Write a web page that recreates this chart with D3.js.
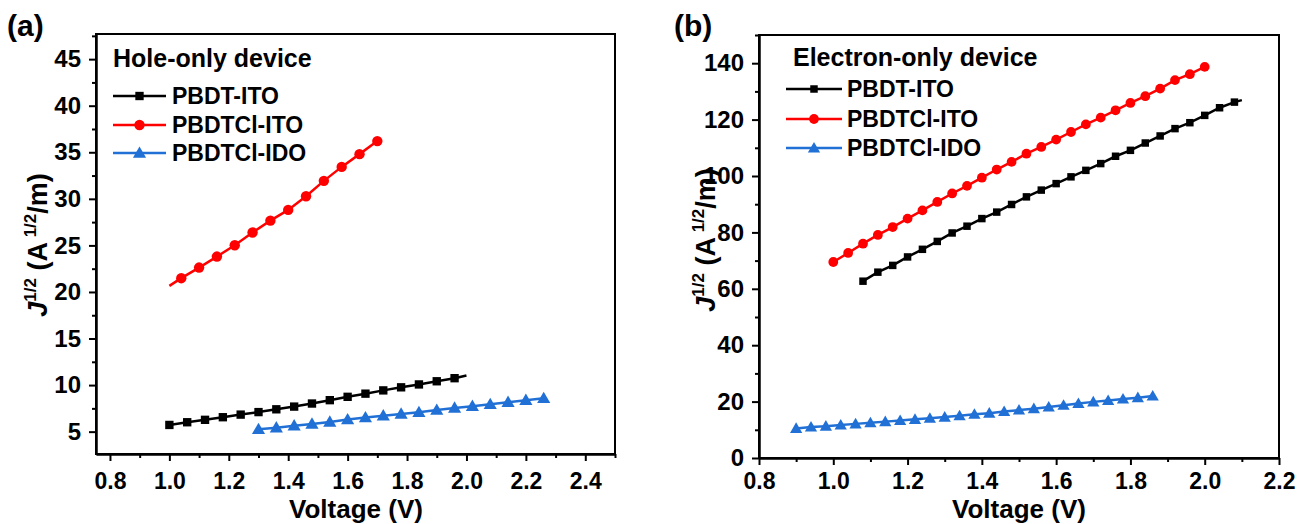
<!DOCTYPE html>
<html>
<head>
<meta charset="utf-8">
<title>Hole / electron only devices</title>
<style>
  body { margin: 0; background: #fff; }
  svg text { font-family: "Liberation Sans", Arial, sans-serif; font-weight: bold; fill: #000; }
  .axis path, .axis line { stroke: #000; stroke-width: 2px; }
  .axis text { font-size: 24px; }
  .axis.xa text { font-size: 23px; }
</style>
</head>
<body>
<div class="container"></div>
<script src="https://cdn.jsdelivr.net/npm/d3@7"></script>
<script>

// ---- data ----
var seriesNames = ["PBDT-ITO", "PBDTCl-ITO", "PBDTCl-IDO"];
var seriesColors = ["#000000", "#ff0000", "#2170d6"];

// (a) hole-only, step 0.06 V
var holeBlackV = [1.00,1.06,1.12,1.18,1.24,1.30,1.36,1.42,1.48,1.54,1.60,1.66,1.72,1.78,1.84,1.90,1.96];
var holeBlackJ = [5.72,6.01,6.27,6.55,6.83,7.10,7.40,7.69,8.02,8.38,8.74,9.08,9.43,9.76,10.07,10.41,10.74];
var holeBlackTail = [2.00, 11.02];

var holeRedV = [1.04,1.10,1.16,1.22,1.28,1.34,1.40,1.46,1.52,1.58,1.64,1.70];
var holeRedJ = [21.48,22.62,23.80,25.02,26.38,27.66,28.81,30.28,31.93,33.43,34.80,36.20];
var holeRedHead = [1.00, 20.65];

var holeBlueV = [1.30,1.36,1.42,1.48,1.54,1.60,1.66,1.72,1.78,1.84,1.90,1.96,2.02,2.08,2.14,2.20,2.26];
var holeBlueJ = [5.25,5.43,5.64,5.83,6.04,6.30,6.52,6.72,6.90,7.08,7.32,7.55,7.74,7.94,8.16,8.38,8.58];

// (b) electron-only, step 0.04 V
var elecBlackV = [1.08,1.12,1.16,1.20,1.24,1.28,1.32,1.36,1.40,1.44,1.48,1.52,1.56,1.60,1.64,1.68,1.72,1.76,1.80,1.84,1.88,1.92,1.96,2.00,2.04,2.08];
var elecBlackJ = [62.7,65.9,68.3,71.3,74.0,76.8,79.8,82.2,84.9,87.2,89.9,92.6,95.0,97.3,99.7,102.0,104.4,107.0,109.1,111.7,114.2,116.8,118.9,121.5,124.2,126.2];
var elecBlackTail = [2.10, 126.9];

var elecRedV = [1.00,1.04,1.08,1.12,1.16,1.20,1.24,1.28,1.32,1.36,1.40,1.44,1.48,1.52,1.56,1.60,1.64,1.68,1.72,1.76,1.80,1.84,1.88,1.92,1.96,2.00];
var elecRedJ = [69.5,72.7,76.0,79.1,81.9,84.9,87.8,90.8,93.8,96.5,99.4,102.3,105.0,107.9,110.3,112.9,115.6,118.3,120.7,123.3,125.9,128.3,131.0,134.0,136.1,138.7];

var elecBlueV = [0.90,0.94,0.98,1.02,1.06,1.10,1.14,1.18,1.22,1.26,1.30,1.34,1.38,1.42,1.46,1.50,1.54,1.58,1.62,1.66,1.70,1.74,1.78,1.82,1.86];
var elecBlueJ = [10.5,11.0,11.3,11.7,12.1,12.5,12.9,13.3,13.7,14.1,14.5,15.0,15.5,15.9,16.5,17.0,17.5,18.1,18.7,19.3,19.9,20.4,20.9,21.4,22.0];

var holeXTicks = [0.8,1.0,1.2,1.4,1.6,1.8,2.0,2.2,2.4];
var holeYTicks = [5,10,15,20,25,30,35,40,45];
var elecXTicks = [0.8,1.0,1.2,1.4,1.6,1.8,2.0,2.2];
var elecYTicks = [0,20,40,60,80,100,120,140];

function zip(a, b){ return a.map(function(v,i){ return [v, b[i]]; }); }

var svg = d3.select('.container')
  .append('svg')
  .attr('width', 1301)
  .attr('height', 524);

function drawPanel(p){
  var x = d3.scaleLinear().domain(p.xDomain).range([p.left, p.right]);
  var y = d3.scaleLinear().domain(p.yDomain).range([p.bottom, p.top]);

  // minor ticks first, then major
  var xMinor = d3.axisBottom(x).tickValues(p.xMinor).tickSize(4).tickFormat('').tickSizeOuter(0);
  var yMinor = d3.axisLeft(y).tickValues(p.yMinor).tickSize(4).tickFormat('').tickSizeOuter(0);
  svg.append('g').attr('class','axis').attr('transform', `translate(0,${p.bottom})`).call(xMinor);
  svg.append('g').attr('class','axis').attr('transform', `translate(${p.left},0)`).call(yMinor);

  svg.append('g').attr('class','axis xa')
    .attr('transform', `translate(0,${p.bottom})`)
    .call(d3.axisBottom(x).tickValues(p.xTicks).tickSize(7).tickSizeOuter(0).tickFormat(d3.format('.1f')))
    .selectAll('text').attr('y', 489 - p.bottom).attr('dy', 0);
  svg.append('g').attr('class','axis')
    .attr('transform', `translate(${p.left},0)`)
    .call(d3.axisLeft(y).tickValues(p.yTicks).tickSize(7).tickSizeOuter(0).tickPadding(8));

  svg.append('rect')
    .attr('x', p.left).attr('y', p.top)
    .attr('width', p.right - p.left).attr('height', p.bottom - p.top)
    .attr('fill', 'none').attr('stroke', '#000').attr('stroke-width', 2);

  var line = d3.line().x(d => x(d[0])).y(d => y(d[1]));
  var markerSym = [d3.symbolSquare, d3.symbolCircle, d3.symbolTriangle];

  p.series.forEach(function(s, i){
    var pts = zip(s.v, s.j);
    var lp = pts.slice();
    if (s.head) lp.unshift(s.head);
    if (s.tail) lp.push(s.tail);
    svg.append('path')
      .attr('d', line(lp))
      .attr('fill', 'none')
      .attr('stroke', seriesColors[i])
      .attr('stroke-width', 2.5);
    svg.append('g').selectAll('path')
      .data(pts)
      .enter().append('path')
      .attr('transform', d => `translate(${x(d[0])},${y(d[1]) + (i == 2 ? 1 : 0)})`)
      .attr('d', d3.symbol().type(markerSym[i]).size(p.msize[i]))
      .attr('fill', seriesColors[i]);
  });

  // legend
  svg.append('text')
    .attr('x', p.legX).attr('y', p.legY)
    .attr('font-size', 25)
    .text(p.title);
  seriesNames.forEach(function(name, i){
    var ly = p.legRows[i];
    svg.append('line')
      .attr('x1', p.legLine[0]).attr('x2', p.legLine[1])
      .attr('y1', ly).attr('y2', ly)
      .attr('stroke', seriesColors[i]).attr('stroke-width', 2.5);
    svg.append('path')
      .attr('transform', `translate(${(p.legLine[0] + p.legLine[1]) / 2},${ly + (i == 2 ? 1 : 0)})`)
      .attr('d', d3.symbol().type(markerSym[i]).size(p.msize[i]))
      .attr('fill', seriesColors[i]);
    svg.append('text')
      .attr('x', p.legText).attr('y', ly + 8)
      .attr('font-size', 23)
      .text(name);
  });

  // panel label
  svg.append('text').attr('x', p.labX).attr('y', 36).attr('font-size', 30).text(p.label);

  // axis titles
  svg.append('text')
    .attr('x', p.xTitleX).attr('y', 518)
    .attr('text-anchor', 'middle')
    .attr('font-size', 26)
    .text('Voltage (V)');

  var yt = svg.append('text')
    .attr('transform', `translate(${p.yTitleX},${p.yTitleY}) rotate(-90)`)
    .attr('text-anchor', 'middle')
    .attr('font-size', 27);
  yt.append('tspan').attr('font-style', 'italic').text('J');
  yt.append('tspan').attr('font-size', 17).attr('dy', -11).text('1/2');
  yt.append('tspan').attr('dy', 11).text(' (A');
  yt.append('tspan').attr('font-size', 17).attr('dy', -11).text(' 1/2');
  yt.append('tspan').attr('dy', 11).text('/m)');
}

function range(a, b, s){ var r = []; for (var k = 0; a + k * s <= b + 1e-9; k++) r.push(+(a + k * s).toFixed(3)); return r; }

drawPanel({
  left: 96, right: 615, top: 34, bottom: 454,
  xDomain: [0.753, 2.5], yDomain: [2.6, 47.7],
  xTicks: holeXTicks, yTicks: holeYTicks,
  xMinor: range(0.9, 2.5, 0.2), yMinor: range(7.5, 47.5, 5),
  msize: [70, 85, 75],
  series: [
    { v: holeBlackV, j: holeBlackJ, tail: holeBlackTail },
    { v: holeRedV, j: holeRedJ, head: holeRedHead },
    { v: holeBlueV, j: holeBlueJ }
  ],
  title: 'Hole-only device', legX: 113, legY: 67,
  legRows: [96, 125, 153],
  legLine: [113, 166], legText: 172,
  label: '(a)', labX: 7,
  xTitleX: 356,
  yTitleX: 47, yTitleY: 245
});

drawPanel({
  left: 759, right: 1279, top: 35, bottom: 458,
  xDomain: [0.8, 2.2], yDomain: [0, 150],
  xTicks: elecXTicks, yTicks: elecYTicks,
  xMinor: range(0.9, 2.1, 0.2), yMinor: range(10, 150, 20),
  msize: [56, 75, 65],
  series: [
    { v: elecBlackV, j: elecBlackJ, tail: elecBlackTail },
    { v: elecRedV, j: elecRedJ },
    { v: elecBlueV, j: elecBlueJ }
  ],
  title: 'Electron-only device', legX: 793, legY: 66,
  legRows: [89, 119, 148],
  legLine: [786, 842], legText: 847,
  label: '(b)', labX: 674,
  xTitleX: 1019,
  yTitleX: 715, yTitleY: 240
});

</script>
</body>
</html>
